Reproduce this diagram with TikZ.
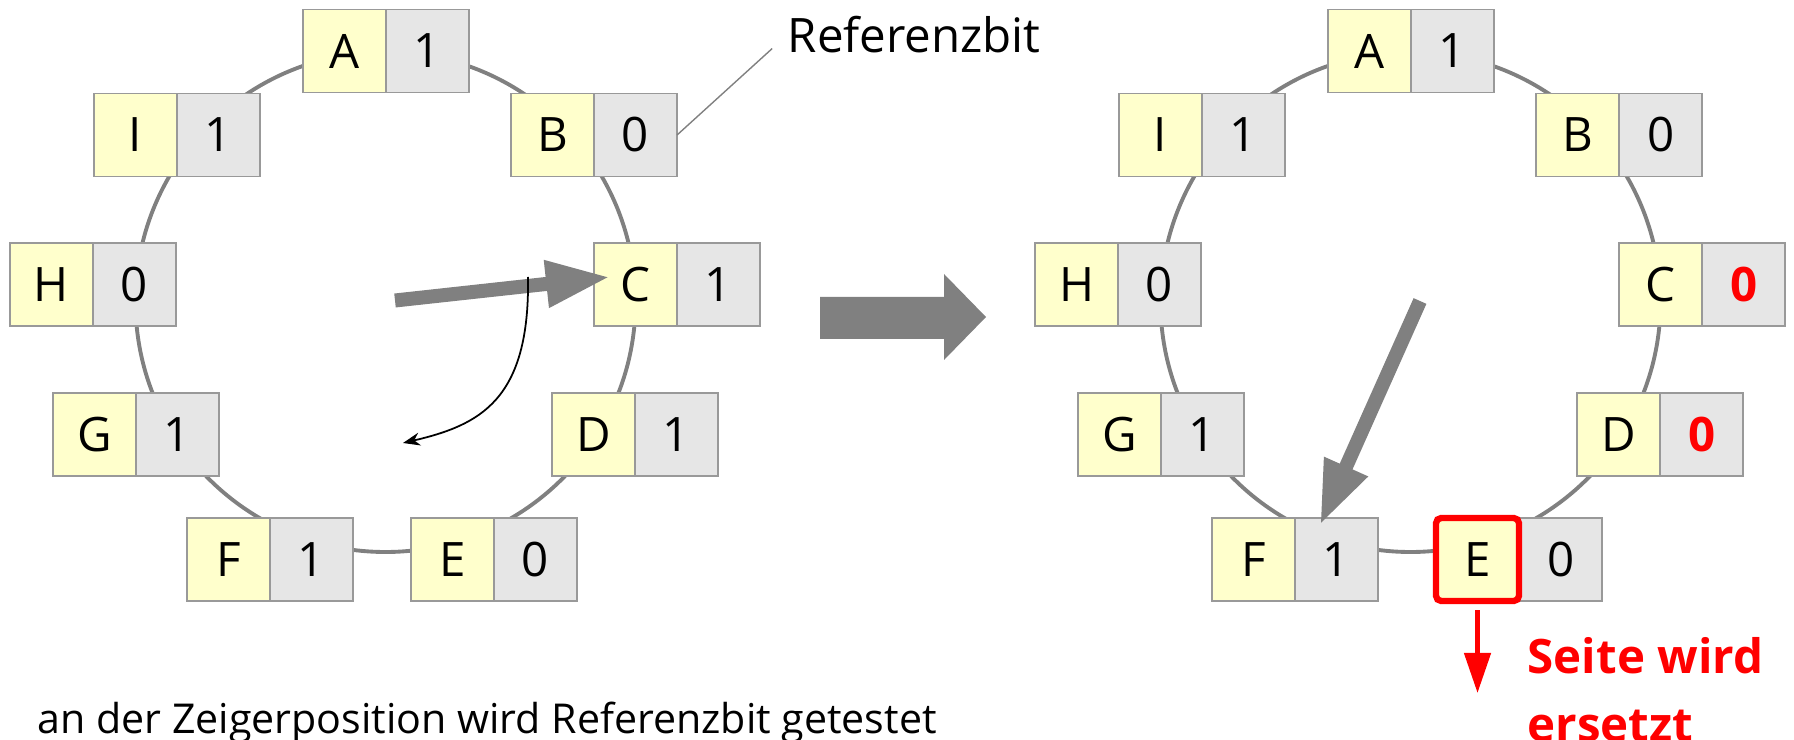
\documentclass[tikz,border=0pt]{standalone}
\usepackage{fontspec}
\setmainfont{Open Sans}
\usetikzlibrary{positioning,arrows.meta}

\definecolor{pageyellow}{HTML}{FFFFCC}
\definecolor{bitgray}{HTML}{E6E6E6}
\definecolor{framegray}{HTML}{999999}
\definecolor{handgray}{HTML}{808080}

\newcommand{\cellfont}{\fontsize{13.5}{16}\selectfont}

\tikzset{
  cell/.style={draw=framegray, line width=0.5pt, minimum width=0.83cm, minimum height=0.83cm,
    inner sep=0pt, outer sep=0pt, font=\cellfont},
  letter/.style={cell, fill=pageyellow},
  bit/.style={cell, fill=bitgray, right=0pt of #1},
  cleared/.style={text=red, font=\cellfont\bfseries},
  ring/.style={draw=handgray, line width=1.1pt},
  pointer/.style={draw=handgray, line width=0.14cm, -{Triangle[length=0.64cm, width=0.44cm]}},
  sweep/.style={line width=0.5pt, -{Stealth[length=0.17cm, width=0.13cm]}},
  leader/.style={draw=handgray, line width=0.4pt},
  victim/.style={draw=red, line width=1.8pt, rounded corners=1.5pt},
  evict/.style={draw=red, line width=1.3pt, -{Triangle[length=0.40cm, width=0.26cm]}}
}

\begin{document}
\begin{tikzpicture}[x=0.01cm, y=-0.01cm]
  \useasboundingbox (0,0) rectangle (1794,740);

  % left clock, before the step
  \draw[ring] (385.5,302) circle [radius=250];
  \node[letter] (lA) at (344.5,51) {A};    \node[bit=lA] (lAb) {1};
  \node[letter] (lI) at (135.5,135) {I};   \node[bit=lI] (lIb) {1};
  \node[letter] (lB) at (552.5,135) {B};   \node[bit=lB] (lBb) {0};
  \node[letter] (lH) at (51.5,284.5) {H};  \node[bit=lH] (lHb) {0};
  \node[letter] (lC) at (635.5,284.5) {C}; \node[bit=lC] (lCb) {1};
  \node[letter] (lG) at (94.5,434.5) {G};  \node[bit=lG] (lGb) {1};
  \node[letter] (lD) at (593.5,434.5) {D}; \node[bit=lD] (lDb) {1};
  \node[letter] (lF) at (228.5,559.5) {F}; \node[bit=lF] (lFb) {1};
  \node[letter] (lE) at (452.5,559.5) {E}; \node[bit=lE] (lEb) {0};

  % hand and its turning direction
  \coordinate (lhand) at (395,300.5);
  \coordinate (lpoint) at (610,277);
  \draw[pointer] (lhand) -- (lpoint);
  \coordinate (sweepfrom) at (528,277);
  \coordinate (sweepto) at (403,443);
  \draw[sweep] (sweepfrom) .. controls (530,400) and (480,425) .. (sweepto);

  % label of the bit column
  \node[anchor=base west, inner sep=0pt, font=\fontsize{13.5}{16}\selectfont] (reflabel) at (787,53) {Referenzbit};
  \draw[leader, shorten >=0.2cm] (lBb.east) -- (reflabel.west);

  % step between the two states
  \fill[handgray] (820,297) -- (944,297) -- (944,274) -- (986,317) -- (944,360) -- (944,339) -- (820,339) -- cycle;

  % right clock, after the step
  \draw[ring] (1410.5,302) circle [radius=250];
  \node[letter] (rA) at (1369.5,51) {A};    \node[bit=rA] (rAb) {1};
  \node[letter] (rI) at (1160.5,135) {I};   \node[bit=rI] (rIb) {1};
  \node[letter] (rB) at (1577.5,135) {B};   \node[bit=rB] (rBb) {0};
  \node[letter] (rH) at (1076.5,284.5) {H}; \node[bit=rH] (rHb) {0};
  \node[letter] (rC) at (1660.5,284.5) {C}; \node[bit=rC, cleared] (rCb) {0};
  \node[letter] (rG) at (1119.5,434.5) {G}; \node[bit=rG] (rGb) {1};
  \node[letter] (rD) at (1618.5,434.5) {D}; \node[bit=rD, cleared] (rDb) {0};
  \node[letter] (rF) at (1253.5,559.5) {F}; \node[bit=rF] (rFb) {1};
  \node[letter] (rE) at (1477.5,559.5) {E}; \node[bit=rE] (rEb) {0};

  \coordinate (rhand) at (1420,301);
  \coordinate (rpoint) at (1320,525);
  \draw[pointer] (rhand) -- (rpoint);

  % page E goes out
  \draw[victim] (rE.north west) rectangle (rE.south east);
  \coordinate (gone) at (1477.5,693);
  \draw[evict, shorten <=0.09cm] (rE.south) -- (gone);
  \node[anchor=north west, inner sep=0pt, align=left, text=red, font=\fontsize{13.5}{19.4}\selectfont\bfseries] (verdict) at (1527,637) {Seite wird\\ersetzt};

  % caption line
  \node[anchor=base west, inner sep=0pt, font=\fontsize{11.7}{14}\selectfont] (hint) at (37,733) {an der Zeigerposition wird Referenzbit getestet};
\end{tikzpicture}
\end{document}
